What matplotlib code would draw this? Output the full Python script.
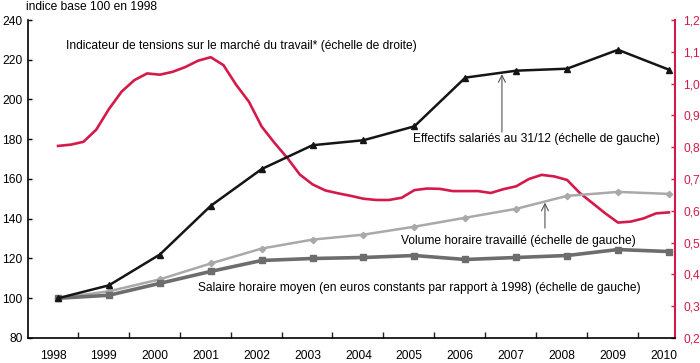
import matplotlib
matplotlib.use("Agg")
import matplotlib.pyplot as plt
import numpy as np

plt.rcParams['font.family'] = ["Liberation Sans", 'DejaVu Sans']

years = ["1998", "1999", "2000", "2001", "2002", "2003", "2004",
         "2005", "2006", "2007", "2008", "2009", "2010"]
effectifs = [100, 106.5, 122, 146.5, 165, 177, 179.5, 186.5, 211, 214.5, 215.5, 225, 215]
volume = [100, 103.5, 109.5, 117.5, 125, 129.5, 132, 136, 140.5, 145, 151.5, 153.5, 152.5]
salaire = [100, 101.5, 107.5, 113.5, 119, 120, 120.5, 121.5, 119.5, 120.5, 121.5, 124.5, 123.5]
# quarterly labour-market tension indicator (right scale)
tensions = [0.804, 0.808, 0.817, 0.855, 0.920, 0.975, 1.011, 1.032, 1.028, 1.037,
            1.052, 1.072, 1.083, 1.058, 0.996, 0.943, 0.865, 0.814, 0.767, 0.714,
            0.683, 0.664, 0.655, 0.647, 0.638, 0.634, 0.634, 0.641, 0.665, 0.670,
            0.669, 0.662, 0.662, 0.662, 0.656, 0.668, 0.677, 0.700, 0.713, 0.708,
            0.697, 0.656, 0.624, 0.592, 0.563, 0.566, 0.576, 0.592, 0.595]
left_ticks = [80, 100, 120, 140, 160, 180, 200, 220, 240]
right_ticks = [0.2, 0.3, 0.4, 0.5, 0.6, 0.7, 0.8, 0.9, 1.0, 1.1, 1.2]

RED = "#d41a4a"
BLACK = "#151515"
LGRAY = "#a9a9a9"
DGRAY = "#6d6d6d"
FS = 8.65

fig = plt.figure(figsize=(7.0, 3.63), dpi=100)
ax = fig.add_axes([0.04, 0.0689, 0.9243, 0.876])
ax2 = ax.twinx()
ax.set_zorder(2)
ax.patch.set_visible(False)

x = np.arange(len(years))
xq = np.linspace(0, len(years) - 1, len(tensions))

ax.plot(x, volume, color=LGRAY, lw=1.8, marker="D", ms=3.2, zorder=3)
ax.plot(x, salaire, color=DGRAY, lw=2.6, marker="s", ms=5, zorder=4)
ax.plot(x, effectifs, color=BLACK, lw=1.8, marker="^", ms=5, zorder=5)
ax2.plot(xq, tensions, color=RED, lw=1.9)

ax.set_xlim(-0.59, 12.12)
ax.set_ylim(80, 240)
ax2.set_ylim(0.2, 1.2)

ax.set_xticks(np.arange(12) + 0.39)
ax.set_xticklabels([])
ax.set_xticks(x - 0.1, minor=True)
ax.set_xticklabels(years, minor=True, fontsize=FS)
ax.tick_params(axis="x", which="major", direction="in", length=4, width=1, color="#222")
ax.tick_params(axis="x", which="minor", length=0, pad=9)

ax.set_yticks(left_ticks)
ax.set_yticklabels([str(v) for v in left_ticks], fontsize=FS)
ax.tick_params(axis="y", direction="in", length=3, width=1, pad=4)

ax2.set_yticks(right_ticks)
ax2.set_yticklabels([f"{v:.1f}".replace(".", ",") for v in right_ticks], fontsize=FS, color=RED)
ax2.tick_params(axis="y", direction="in", length=3, width=1, color=RED, pad=6)

for a in (ax, ax2):
    a.spines["top"].set_visible(False)
ax.spines["right"].set_visible(False)
ax2.spines["left"].set_visible(False)
ax2.spines["bottom"].set_visible(False)
ax2.spines["right"].set_color(RED)
ax2.spines["right"].set_linewidth(1.5)
ax.spines["left"].set_linewidth(1.2)
ax.spines["bottom"].set_linewidth(1.2)

fig.text(0.037, 0.981, "indice base 100 en 1998", fontsize=FS, va="center", ha="left")
ax.text(0.157, 226.9, "Indicateur de tensions sur le marché du travail* (échelle de droite)",
        fontsize=FS, va="center", ha="left")
ax.text(6.97, 180.1, "Effectifs salariés au 31/12 (échelle de gauche)",
        fontsize=FS, va="center", ha="left")
ax.text(6.74, 128.8, "Volume horaire travaillé (échelle de gauche)",
        fontsize=FS, va="center", ha="left")
ax.text(2.75, 105.2, "Salaire horaire moyen (en euros constants par rapport à 1998) (échelle de gauche)",
        fontsize=FS, va="center", ha="left")

arrow = dict(arrowstyle="->,head_length=0.5,head_width=0.25", color="#555555", lw=0.8,
             shrinkA=0, shrinkB=0)
ax.annotate("", xy=(8.72, 212.8), xytext=(8.72, 183.6), arrowprops=arrow)
ax.annotate("", xy=(9.565, 148.1), xytext=(9.565, 135.3), arrowprops=arrow)

fig.savefig("out.png", dpi=100)
